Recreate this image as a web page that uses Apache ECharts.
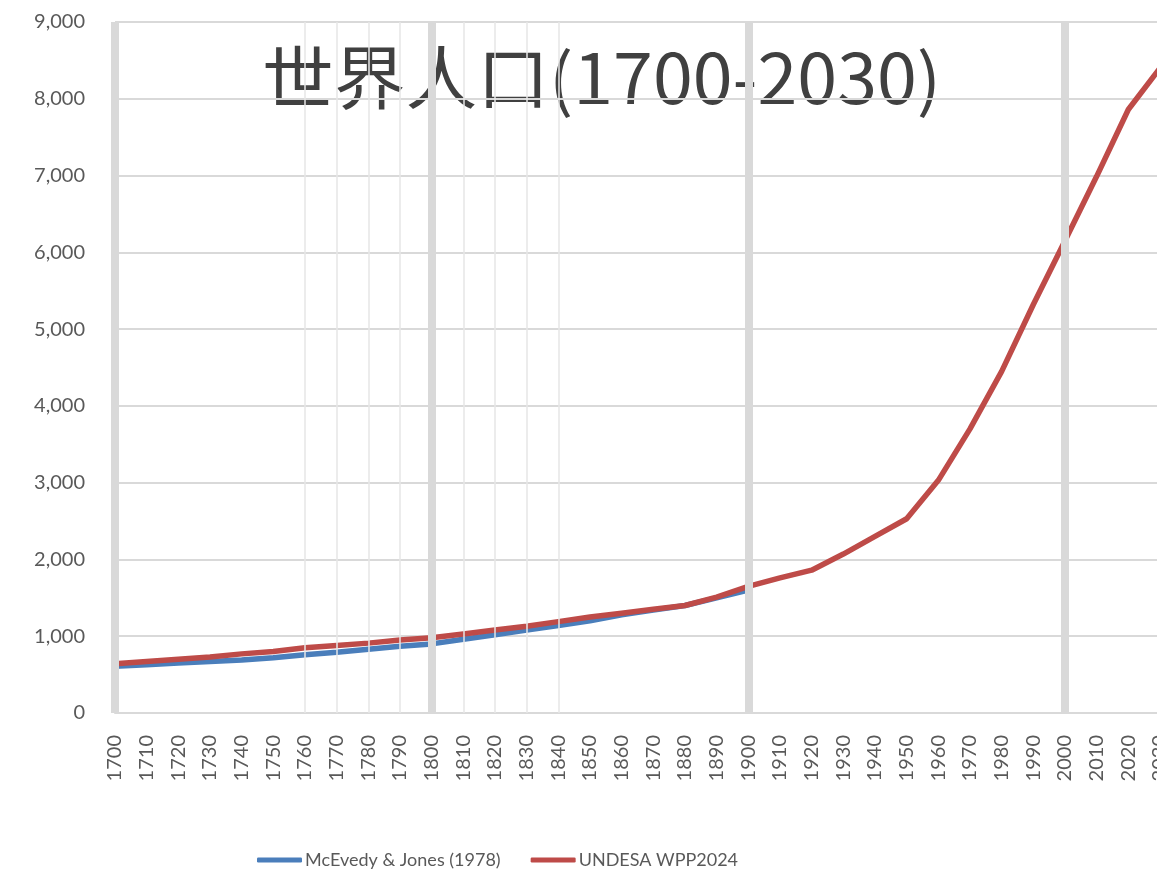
<!DOCTYPE html>
<html>
<head>
<meta charset="utf-8">
<script src="https://cdn.jsdelivr.net/npm/echarts@6/dist/echarts.min.js"></script>
<style>
  html, body { margin: 0; padding: 0; background: #fff; }
  #main { width: 1157px; height: 874px; }
</style>
</head>
<body>
<div id="main"></div>
<script>
// years and values (millions)
var mcevedyYears = [1700, 1710, 1720, 1730, 1740, 1750, 1760, 1770, 1780, 1790, 1800,
                    1810, 1820, 1830, 1840, 1850, 1860, 1870, 1880, 1890, 1900];
var mcevedyPop = [610, 630, 650, 670, 690, 720, 760, 790, 830, 870, 900,
                  960, 1020, 1080, 1140, 1200, 1280, 1340, 1400, 1500, 1600];

var undesaYears = [1700, 1710, 1720, 1730, 1740, 1750, 1760, 1770, 1780, 1790, 1800,
                   1810, 1820, 1830, 1840, 1850, 1860, 1870, 1880, 1890, 1900,
                   1910, 1920, 1930, 1940, 1950, 1960, 1970, 1980, 1990, 2000,
                   2010, 2020, 2030];
var undesaPop = [640, 670, 700, 730, 770, 800, 850, 880, 910, 950, 980,
                 1030, 1080, 1130, 1190, 1250, 1300, 1350, 1400, 1510, 1650,
                 1760, 1860, 2070, 2300, 2530, 3030, 3700, 4450, 5320, 6150,
                 6990, 7860, 8400];

var thickLines = [1700, 1800, 1900, 2000];
var thinLines = [1760, 1770, 1780, 1790, 1810, 1820, 1830, 1840];

function pairs(xs, ys) {
  return xs.map(function (x, i) { return [x, ys[i]]; });
}

var gridColor = '#d9d9d9';
var textColor = '#595959';
var font = 'Lato';

var vLines = thickLines.map(function (y) {
  return { xAxis: y, lineStyle: { width: 8, color: gridColor, type: 'solid' } };
}).concat(thinLines.map(function (y) {
  return { xAxis: y, lineStyle: { width: 1.5, color: '#e6e6e6', type: 'solid' } };
}));

var option = {
  backgroundColor: '#fff',
  animation: false,
  grid: { left: 115, right: -3, top: 22, bottom: 161, outerBoundsMode: 'none' },
  graphic: [{
    type: 'text',
    left: 262,
    top: 43,
    scaleX: 1.04,
    style: {
      text: '世界人口(1700-2030)',
      fontSize: 69,
      fontFamily: 'Noto Sans CJK SC',
      fill: '#404040'
    }
  }],
  legend: {
    left: 252,
    bottom: 0,
    icon: 'roundRect',
    itemWidth: 45,
    itemHeight: 5,
    itemGap: 30,
    textStyle: { color: textColor, fontSize: 18, fontFamily: font, padding: [0, 0, 0, -2] },
    data: ['McEvedy & Jones (1978)', 'UNDESA WPP2024']
  },
  xAxis: {
    type: 'value',
    min: 1700,
    max: 2030,
    interval: 10,
    axisLine: { show: true, onZero: false, lineStyle: { color: gridColor, width: 2 } },
    axisTick: { show: false },
    splitLine: { show: false },
    axisLabel: {
      rotate: 90,
      margin: 22,
      color: textColor,
      fontSize: 20,
      fontFamily: font,
      showMaxLabel: true,
      hideOverlap: false,
      formatter: function (v) { return String(v); }
    }
  },
  yAxis: {
    type: 'value',
    min: 0,
    max: 9000,
    interval: 1000,
    axisLine: { show: false },
    axisTick: { show: false },
    splitLine: { lineStyle: { color: gridColor, width: 2 } },
    axisLabel: {
      margin: 30,
      color: textColor,
      fontSize: 20,
      fontFamily: font,
      formatter: function (v) { return v.toLocaleString('en-US'); }
    }
  },
  series: [
    {
      name: 'grid-lines',
      type: 'line',
      data: [],
      silent: true,
      z: 1,
      markLine: {
        silent: true,
        symbol: 'none',
        label: { show: false },
        data: vLines
      }
    },
    {
      name: 'McEvedy & Jones (1978)',
      type: 'line',
      data: pairs(mcevedyYears, mcevedyPop),
      showSymbol: false,
      z: 3,
      itemStyle: { color: '#4a7ebb' },
      lineStyle: { color: '#4a7ebb', width: 5.5 }
    },
    {
      name: 'UNDESA WPP2024',
      type: 'line',
      data: pairs(undesaYears, undesaPop),
      showSymbol: false,
      z: 4,
      itemStyle: { color: '#be4b48' },
      lineStyle: { color: '#be4b48', width: 5.5 }
    }
  ]
};

var myChart = echarts.init(document.getElementById('main'));
myChart.setOption(option);
</script>
</body>
</html>
